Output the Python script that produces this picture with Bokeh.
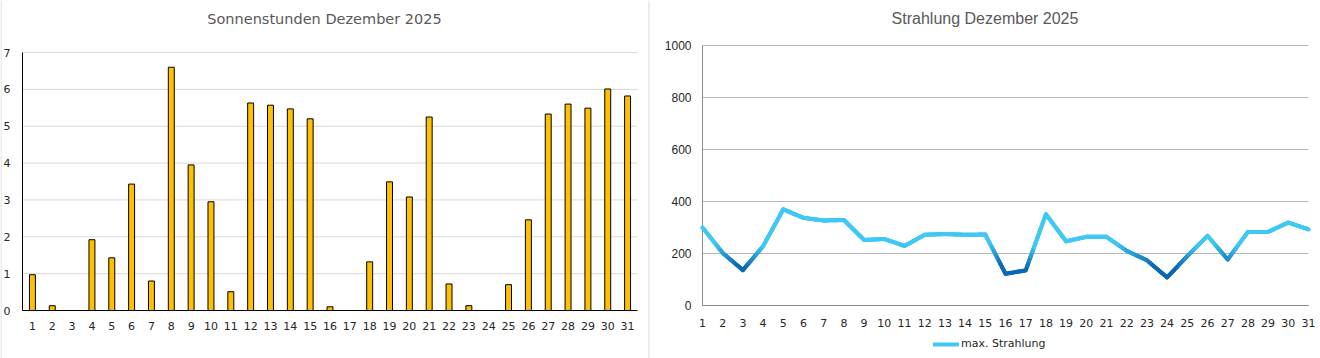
from bokeh.plotting import figure
from bokeh.models import Range1d, Legend, LegendItem
from bokeh.core.properties import value
from bokeh.embed import file_html
from bokeh.resources import INLINE

# ---------------- data ----------------
days = list(range(1, 32))
day_labels = [str(d) for d in days]
sunshine_hours = [0.97, 0.13, 0.0, 1.92, 1.43, 3.43, 0.80, 6.60, 3.95, 2.95,
                  0.51, 5.63, 5.57, 5.47, 5.20, 0.10, 0.0, 1.32, 3.49, 3.08,
                  5.25, 0.72, 0.13, 0.0, 0.70, 2.46, 5.33, 5.60, 5.49, 6.01, 5.82]
max_radiation = [300, 202, 136, 228, 370, 337, 327, 329, 252, 256,
                 229, 272, 275, 272, 273, 122, 135, 351, 247, 264,
                 264, 210, 174, 108, 190, 268, 177, 283, 283, 319, 293]
left_title = "Sonnenstunden Dezember 2025"
right_title = "Strahlung Dezember 2025"
series_name = "max. Strahlung"
hours_ticks = [0, 1, 2, 3, 4, 5, 6, 7]
rad_ticks = [0, 200, 400, 600, 800, 1000]

# ---------------- layout (pixels) ----------------
W, H = 1320, 358
L_X0, L_X1, L_TOP, L_BOT = 22, 637, 52, 310      # left chart plot area
R_X0, R_X1, R_TOP, R_BOT = 702, 1308, 45, 305    # right chart plot area
TICK_FONT = value("DejaVu Sans")


def span_range(v0, v1, p0, p1, total):
    """Range so that value v0 sits at pixel p0 and v1 at p1 over [0, total]."""
    s = (v1 - v0) / (p1 - p0)
    return Range1d(v0 - p0 * s, v1 + (total - p1) * s)


p = figure(width=W, height=H, output_backend="svg", toolbar_location=None,
           x_range=Range1d(0, W), y_range=Range1d(H, 0),
           x_axis_location=None, y_axis_location=None, min_border=0,
           outline_line_color=None)
p.grid.visible = False

p.extra_x_ranges = {
    "lx": span_range(0.5, 31.5, L_X0, L_X1, W),
    "rx": span_range(1, 31, R_X0, R_X1, W),
}
p.extra_y_ranges = {
    "ly": span_range(0, hours_ticks[-1], H - L_BOT, H - L_TOP, H),
    "ry": span_range(0, rad_ticks[-1], H - R_BOT, H - R_TOP, H),
}

# chart frames / separators
p.segment(x0=[0.5, 648.5], y0=[0, 0], x1=[0.5, 648.5], y1=[H, H],
          line_color="#d9d9d9", line_width=1)

# ---------------- titles ----------------
p.text(x=[(0 + 648) / 2], y=[18], text=[left_title], text_align="center",
       text_baseline="middle", text_font=value("DejaVu Sans"),
       text_font_size="14.5px", text_color="#595959")
p.text(x=[(649 + W) / 2], y=[18], text=[right_title], text_align="center",
       text_baseline="middle", text_font=value("Liberation Sans"),
       text_font_size="16px", text_color="#595959")

# ---------------- left: bar chart ----------------
LR = dict(x_range_name="lx", y_range_name="ly")
p.segment(x0=[0.5] * len(hours_ticks), x1=[31.5] * len(hours_ticks),
          y0=hours_ticks, y1=hours_ticks, line_color="#d9d9d9", line_width=1, **LR)
p.vbar(x=days, top=sunshine_hours, width=0.3, fill_color="#FFC000",
       line_color="#000000", line_width=1, **LR)
p.segment(x0=[0.5, 0.5], y0=[0, 0], x1=[0.5, 31.5], y1=[hours_ticks[-1], 0],
          line_color="#000000", line_width=1, **LR)
p.text(x=[0.5] * len(hours_ticks), y=hours_ticks, text=[str(t) for t in hours_ticks],
       x_offset=-12, text_align="right", text_baseline="middle",
       text_font=TICK_FONT, text_font_size="11px", text_color="#262626", **LR)
p.text(x=days, y=[0] * len(days), text=day_labels, y_offset=15,
       text_align="center", text_baseline="middle",
       text_font=TICK_FONT, text_font_size="11px", text_color="#262626", **LR)

# ---------------- right: line chart ----------------
RR = dict(x_range_name="rx", y_range_name="ry")
p.segment(x0=[1] * len(rad_ticks), x1=[31] * len(rad_ticks),
          y0=rad_ticks, y1=rad_ticks, line_color="#b8b8b8", line_width=1, **RR)
p.segment(x0=[1, 1], y0=[0, 0], x1=[1, 31], y1=[rad_ticks[-1], 0],
          line_color="#8c8c8c", line_width=1, **RR)
p.text(x=[1] * len(rad_ticks), y=rad_ticks, text=[str(t) for t in rad_ticks],
       x_offset=-11, text_align="right", text_baseline="middle",
       text_font=value("Liberation Sans"), text_font_size="12px",
       text_color="#262626", **RR)
p.text(x=days, y=[0] * len(days), text=day_labels, y_offset=17,
       text_align="center", text_baseline="middle",
       text_font=TICK_FONT, text_font_size="11px", text_color="#262626", **RR)

light = (64, 200, 245)
dark = (12, 104, 178)
base = p.line(days, max_radiation, line_width=4, line_color="#40C8F5",
              line_join="round", line_cap="round", **RR)

x0s, y0s, x1s, y1s, cols = [], [], [], [], []
n = 12
for i in range(len(days) - 1):
    xa, xb = days[i], days[i + 1]
    ya, yb = max_radiation[i], max_radiation[i + 1]
    for k in range(n):
        t0, t1 = k / n, (k + 1) / n
        sx0, sx1 = xa + (xb - xa) * t0, xa + (xb - xa) * t1
        sy0, sy1 = ya + (yb - ya) * t0, ya + (yb - ya) * t1
        ym = (sy0 + sy1) / 2
        f = min(1.0, max(0.0, (ym - 150) / (235 - 150)))
        c = tuple(int(round(d + (l - d) * f)) for l, d in zip(light, dark))
        x0s.append(sx0); y0s.append(sy0); x1s.append(sx1); y1s.append(sy1)
        cols.append("#%02x%02x%02x" % c)
p.segment(x0=x0s, y0=y0s, x1=x1s, y1=y1s, line_color=cols, line_width=4,
          line_cap="round", **RR)

legend = Legend(items=[LegendItem(label=series_name, renderers=[base])],
                orientation="horizontal", location=(933, 8),
                border_line_color=None, background_fill_alpha=0,
                label_text_font="DejaVu Sans", label_text_font_size="11px",
                label_text_color="#262626", glyph_width=26, glyph_height=12,
                label_standoff=2, padding=0, margin=0, spacing=0)
p.add_layout(legend)

open("out.html", "w").write(file_html(p, INLINE))
